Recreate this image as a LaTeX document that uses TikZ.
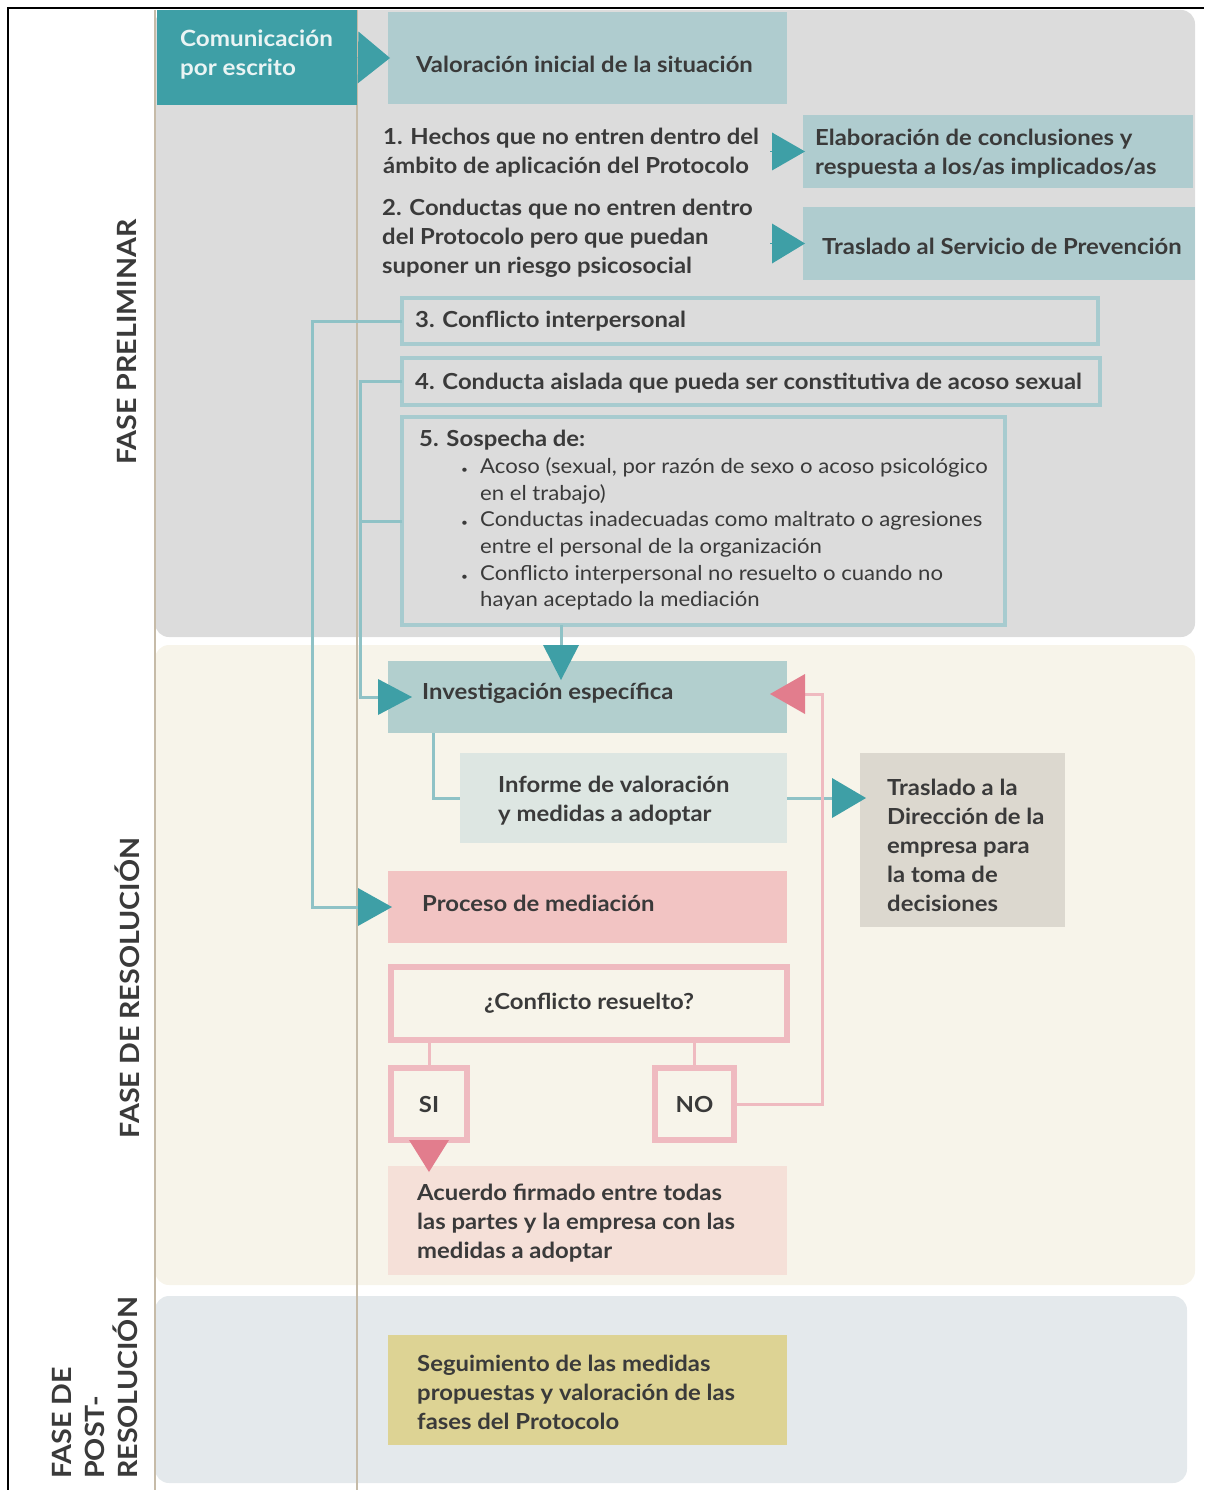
\documentclass[tikz,border=0pt]{standalone}
\usepackage{fontspec}
\setmainfont{Lato}[FakeStretch=1.08]
\usetikzlibrary{arrows.meta,calc}
\definecolor{txtc}{HTML}{3A3A3A}
\definecolor{pgray}{HTML}{DCDCDC}
\definecolor{pcream}{HTML}{F7F4EA}
\definecolor{pblue}{HTML}{E4E9EC}
\definecolor{guidec}{HTML}{C6BBA8}
\definecolor{teald}{HTML}{3E9FA6}
\definecolor{tlc}{HTML}{8FC2C6}
\definecolor{outc}{HTML}{A7CBCF}
\definecolor{valc}{HTML}{AFCCCF}
\definecolor{invc}{HTML}{B2CFCE}
\definecolor{infc}{HTML}{DDE6E2}
\definecolor{dirc}{HTML}{DCD8CF}
\definecolor{medc}{HTML}{F2C4C3}
\definecolor{acuc}{HTML}{F5E0D8}
\definecolor{segc}{HTML}{DDD394}
\definecolor{plc}{HTML}{EFBAC0}
\definecolor{pinkd}{HTML}{E27D8D}
\definecolor{comtxt}{HTML}{EAF4F4}
\tikzset{
  bx/.style={anchor=north west, inner sep=0pt, outer sep=0pt},
  txt/.style={text=txtc, font=\fontsize{22.1}{29}\selectfont\bfseries, align=left, inner sep=0pt, anchor=west},
  btxt/.style={text=txtc, font=\fontsize{20.5}{26.6}\selectfont, align=left, inner sep=0pt, anchor=west},
  lab/.style={text=txtc, font=\fontsize{26.5}{33}\selectfont\bfseries, inner sep=0pt},
  guide/.style={draw=guidec, line width=1.6pt},
  tline/.style={draw=tlc, line width=3pt},
  pline/.style={draw=plc, line width=3pt},
  tarr/.style 2 args={tline, -{Triangle[length=#1pt,width=#2pt,line width=0pt,color=teald]}},
  narr/.style 2 args={draw=teald, line width=0.1pt, -{Triangle[length=#1pt,width=#2pt,line width=0pt,color=teald]}},
  parr/.style 2 args={pline, -{Triangle[length=#1pt,width=#2pt,line width=0pt,color=pinkd]}},
  obox/.style={bx, draw=outc, line width=4pt},
  pbox/.style={bx, draw=plc, line width=6pt},
}
\newcommand{\bul}{\makebox[19pt][l]{\fontsize{11}{11}\selectfont •}}
\begin{document}
\begin{tikzpicture}[x=1pt,y=-1pt]
\useasboundingbox (0,0) rectangle (1204,1490);
% phase panels
\fill[pgray, rounded corners=14pt] (155,10) rectangle (1195,637);
\fill[pcream, rounded corners=14pt] (155,645) rectangle (1195,1285);
\fill[pblue, rounded corners=14pt] (155,1296) rectangle (1187,1483);
\draw[guide] (155,10) -- (155,1490);
\draw[guide] (357,10) -- (357,1490);
\draw[line width=2pt] (8,1490) -- (8,8) -- (1204,8);

% phase labels
\node[lab, rotate=90] (lpre) at (127,342) {FASE PRELIMINAR};
\node[lab, rotate=90] (lres) at (127,988) {FASE DE RESOLUCIÓN};
\node[lab, rotate=90, anchor=west, align=left] (lpost) at (95,1479) {FASE DE\\POST-\\RESOLUCIÓN};

% boxes
\node[bx, fill=teald, minimum width=200pt, minimum height=95pt] (com) at (157,10) {};
\node[bx, fill=valc, minimum width=399pt, minimum height=92pt] (val) at (388,12) {};
\node[bx, fill=valc, minimum width=390pt, minimum height=73pt] (e1) at (803,115) {};
\node[bx, fill=valc, minimum width=392pt, minimum height=73pt] (e2) at (803,207) {};
\node[obox, minimum width=696pt, minimum height=46pt] (b3) at (402,298) {};
\node[obox, minimum width=698pt, minimum height=47pt] (b4) at (402,358) {};
\node[obox, minimum width=603pt, minimum height=208pt] (b5) at (402,417) {};
\node[bx, fill=invc, minimum width=399pt, minimum height=72pt] (inv) at (388,661) {};
\node[bx, fill=infc, minimum width=327pt, minimum height=90pt] (inf) at (460,753) {};
\node[bx, fill=dirc, minimum width=205pt, minimum height=174pt] (dir) at (860,753) {};
\node[bx, fill=medc, minimum width=399pt, minimum height=72pt] (med) at (388,871) {};
\node[pbox, minimum width=396pt, minimum height=73pt] (conf) at (391,967) {};
\node[pbox, minimum width=76pt, minimum height=72pt] (si) at (391,1068) {};
\node[pbox, minimum width=79pt, minimum height=72pt] (no) at (655,1068) {};
\node[bx, fill=acuc, minimum width=399pt, minimum height=109pt] (acu) at (388,1166) {};
\node[bx, fill=segc, minimum width=399pt, minimum height=110pt] (seg) at (388,1335) {};

% texts
\node[txt, text=comtxt, font=\fontsize{22.4}{29}\selectfont\bfseries] (comt) at (180,55) {Comunicación\\por escrito};
\node[txt] (valt) at (416,64) {Valoración inicial de la situación};
\node[txt] (t1) at (383,153) {1. Hechos que no entren dentro del\\ámbito de aplicación del Protocolo};
\node[txt] (e1t) at (815,154) {Elaboración de conclusiones y\\respuesta a los/as implicados/as};
\node[txt] (t2) at (382,238) {2. Conductas que no entren dentro\\del Protocolo pero que puedan\\suponer un riesgo psicosocial};
\node[txt] (e2t) at (822,246) {Traslado al Servicio de Prevención};
\node[txt] (b3t) at (415,321) {3. Conflicto interpersonal};
\node[txt] (b4t) at (415,383) {4. Conducta aislada que pueda ser constitutiva de acoso sexual};
\node[txt] (b5t) at (419,440) {5. Sospecha de:};
\node[btxt] (b5l) at (461,534) {\bul Acoso (sexual, por razón de sexo o acoso psicológico\\\hspace*{19pt}en el trabajo)\\\bul Conductas inadecuadas como maltrato o agresiones\\\hspace*{19pt}entre el personal de la organización\\\bul Conflicto interpersonal no resuelto o cuando no\\\hspace*{19pt}hayan aceptado la mediación};
\node[txt] (invt) at (422,693) {Investigación específica};
\node[txt] (inft) at (498,801) {Informe de valoración\\y medidas a adoptar};
\node[txt] (dirt) at (887,845) {Traslado a la\\Dirección de la\\empresa para\\la toma de\\decisiones};
\node[txt] (medt) at (422,903) {Proceso de mediación};
\node[txt, anchor=center] (conft) at (conf.center) {¿Conflicto resuelto?};
\node[txt, anchor=center] (sit) at (si.center) {SI};
\node[txt, anchor=center] (not) at (no.center) {NO};
\node[txt] (acut) at (417,1223) {Acuerdo firmado entre todas\\las partes y la empresa con las\\medidas a adoptar};
\node[txt] (segt) at (417,1392) {Seguimiento de las medidas\\propuestas y valoración de las\\fases del Protocolo};

% connectors
\draw[narr={32}{52}] (com.east) -- ([xshift=2pt]val.west);
\draw[narr={33}{38}] ([xshift=-33pt]e1.west) -- ([xshift=2pt]e1.west);
\draw[narr={33}{40}] ([xshift=-33pt]e2.west) -- ([xshift=2pt]e2.west);
\draw[tarr={34}{38}] (b3.west) -- ++(-90,0) |- ([xshift=4pt]med.west);
\draw[tarr={34}{36}] (b4.west) -- ++(-42,0) |- ([xshift=24pt]inv.west);
\draw[tline] (b5.west) -- ++(-42,0);
\draw[tarr={35}{36}] ([xshift=159pt]b5.south west) -- ([xshift=173pt,yshift=-19pt]inv.north west);
\draw[tline] ([xshift=45pt]inv.south west) |- (inf.west);
\draw[tarr={34}{40}] (inf.east) -- ([xshift=6pt]inf.east -| dir.west);
\draw[parr={35}{40}] (no.east) -- ++(88,0) |- ([xshift=-17pt,yshift=3pt]inv.east);
\draw[pline] (conf.south -| si.north) -- (si.north);
\draw[pline] (conf.south -| no.north) -- (no.north);
\draw[parr={32}{40}] (si.south) -- ([yshift=-6pt]acu.north -| si.south);
\end{tikzpicture}
\end{document}
